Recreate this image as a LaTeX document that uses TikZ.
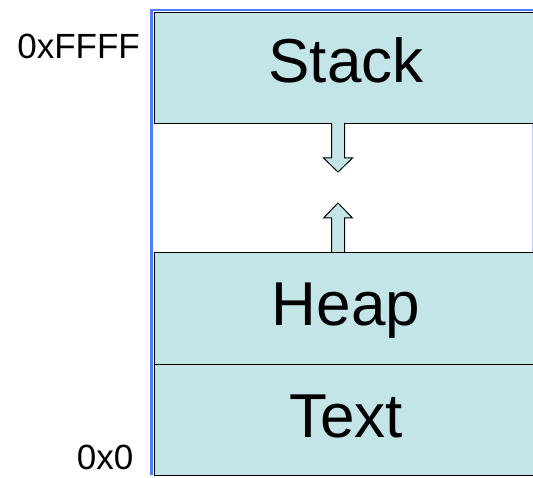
\documentclass[tikz,border=0pt]{standalone}
\usepackage{fontspec}
\setmainfont{Liberation Sans}
\begin{document}
\begin{tikzpicture}[x=1pt,y=1pt,
  seg/.style={draw=black, line width=1.2pt, fill=segfill, minimum width=400pt, anchor=north west, inner sep=0pt},
  lbl/.style={font=\fontsize{62}{62}\selectfont, anchor=base, inner sep=0pt},
  addr/.style={font=\fontsize{35}{35}\selectfont, inner sep=0pt},
  fatarrow/.style={draw=black, line width=1pt, fill=segfill, line join=miter}]
\definecolor{segfill}{HTML}{C4E5E8}
\definecolor{edgeblue}{HTML}{4A7EFF}
\useasboundingbox (0,0) rectangle (533,477);
\clip (0,0) rectangle (533,477);
% outer region outline (right side)
\draw[edgeblue!40, line width=0.8pt] (153,467) -- (532.5,467) -- (532.5,2);
% segments
\node[seg, minimum height=111pt] (stack) at (154,465) {};
\node[seg, minimum height=112pt] (heap) at (154,225) {};
\node[seg, minimum height=111pt] (text) at (154,113) {};
\node[lbl] (stacklbl) at (346,394) {Stack};
\node[lbl] (heaplbl) at (346,151) {Heap};
\node[lbl] (textlbl) at (346,40) {Text};
% blue outline on the left and top
\draw[edgeblue, line width=3pt] (151.8,468) -- (151.8,2);
\draw[edgeblue, line width=2pt] (151,466.8) -- (533,466.8);
% growth arrows
\draw[fatarrow] (331.5,354) -- (331.5,319) -- (323.5,319) -- (338,305) -- (352.5,319) -- (344.5,319) -- (344.5,354);
\draw[fatarrow] (331.5,225) -- (331.5,259) -- (323.5,259) -- (338,274) -- (352.5,259) -- (344.5,259) -- (344.5,225);
% addresses
\node[addr, anchor=base east] (hi) at (140,418) {0xFFFF};
\node[addr, anchor=base east] (lo) at (133.5,8) {0x0};
\end{tikzpicture}
\end{document}
